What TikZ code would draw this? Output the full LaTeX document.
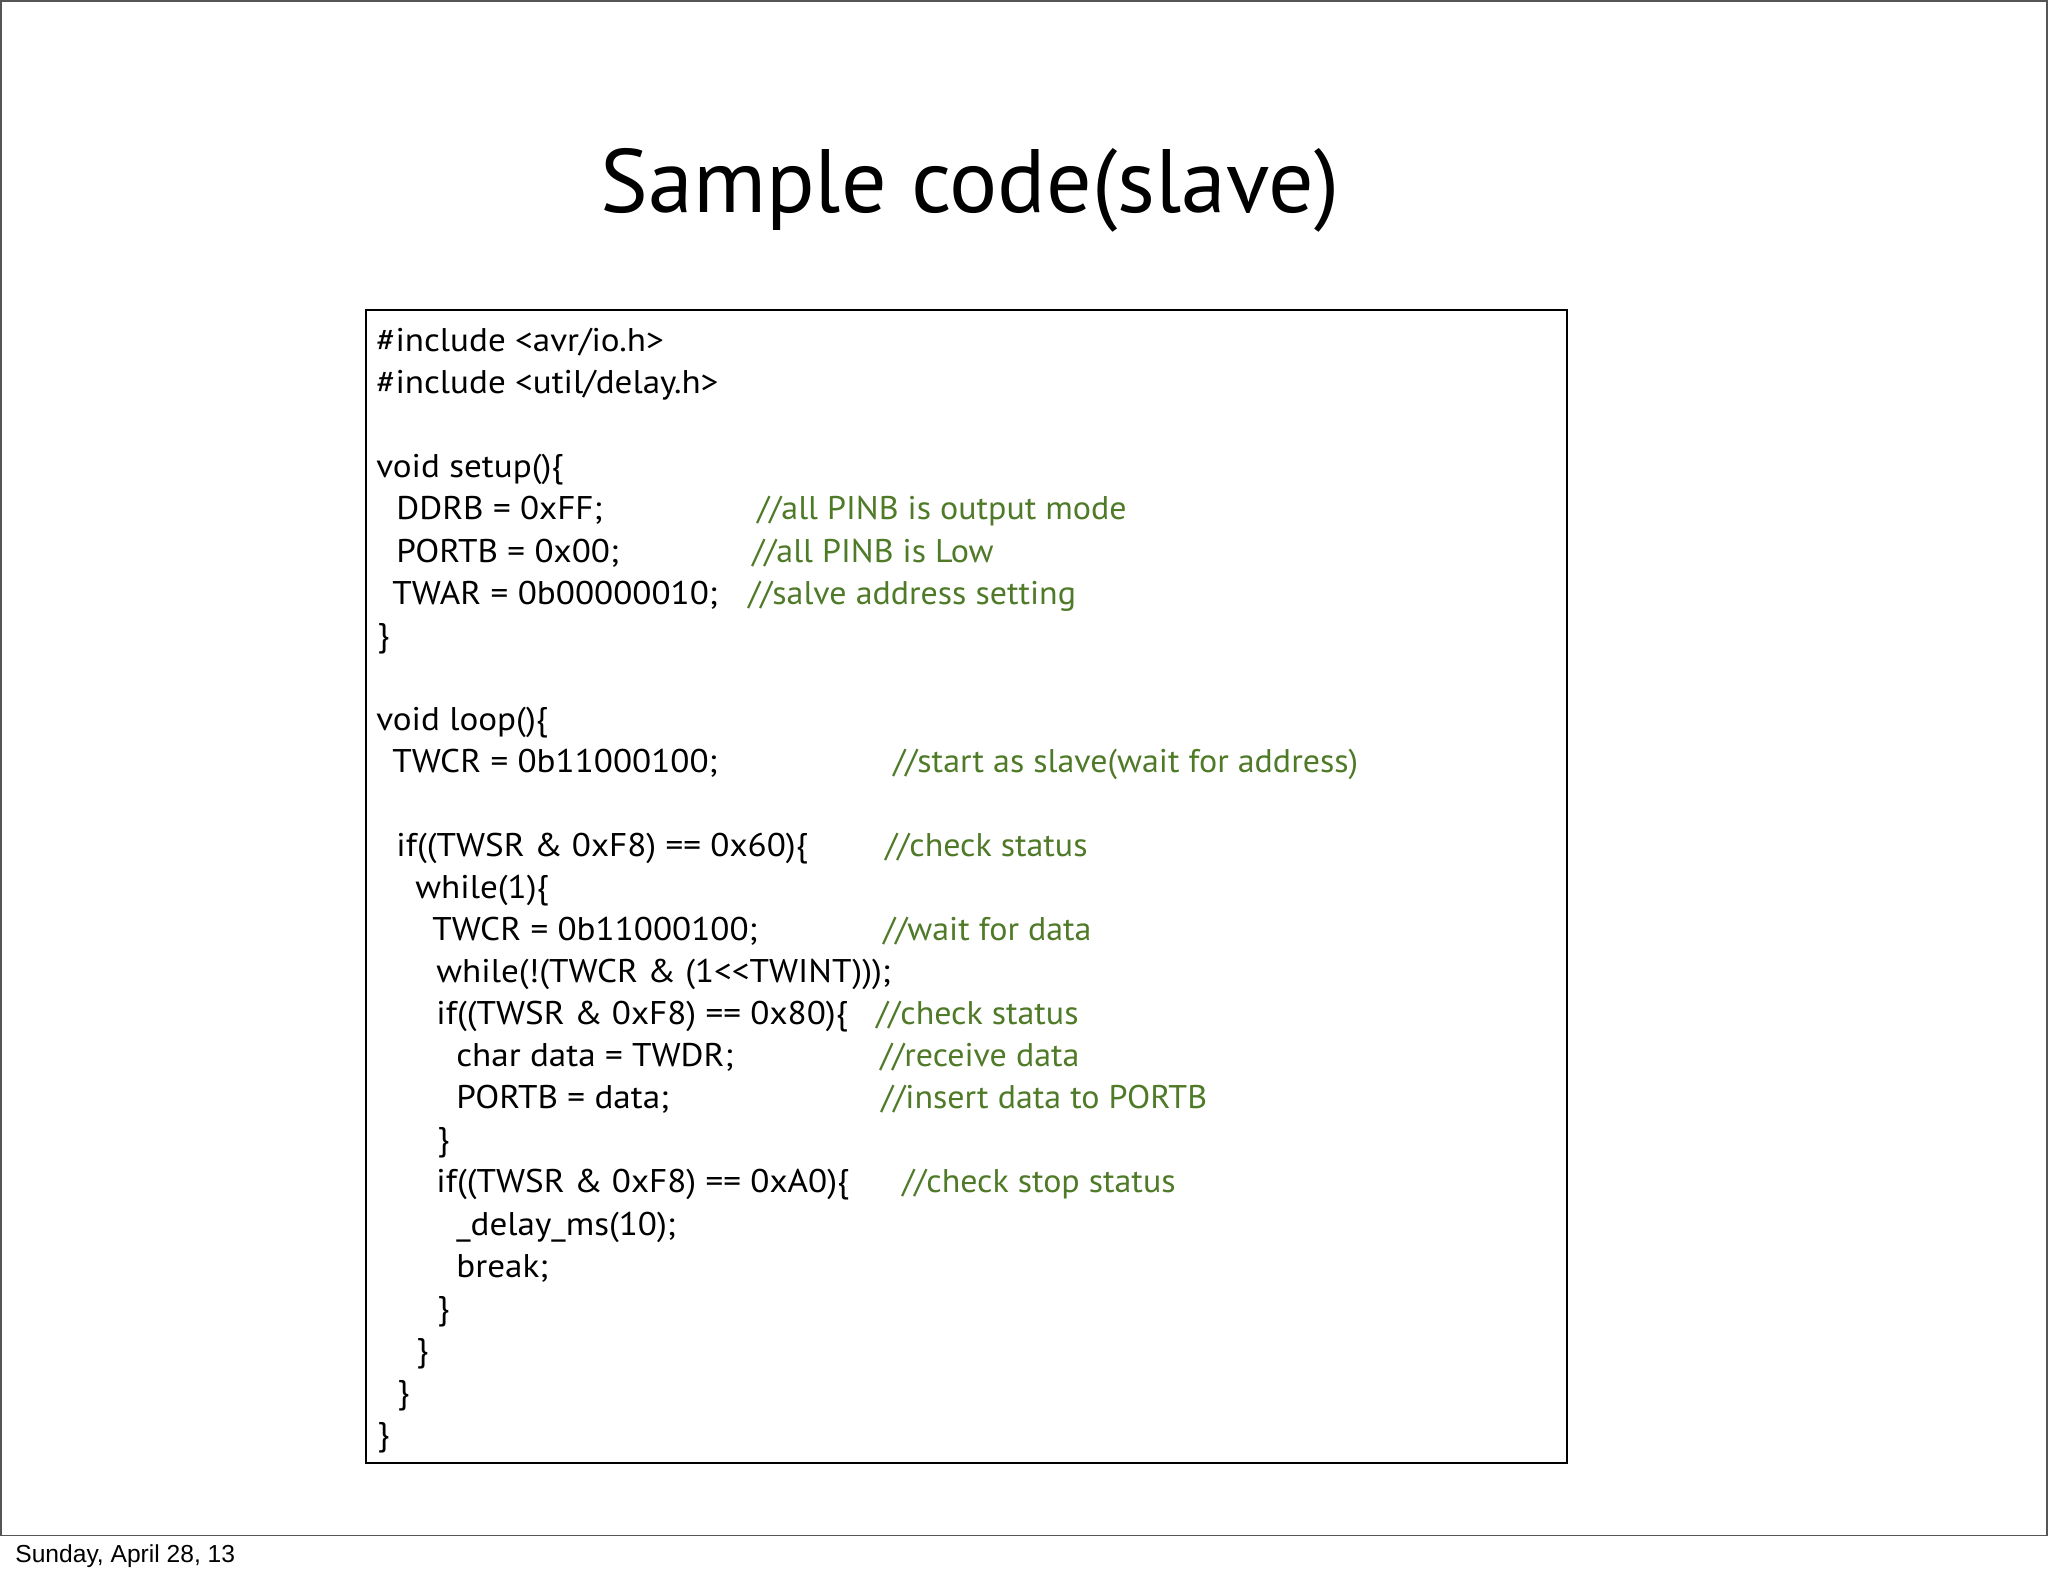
\documentclass[tikz,border=0pt]{standalone}
\usepackage{fontspec}
\setmainfont{PT Sans}
\newfontfamily\codefam[FakeStretch=1.07]{PT Sans}
\newfontfamily\cmtfam[FakeStretch=1.035]{PT Sans}
\newfontfamily\footfont{Liberation Sans}
\definecolor{cmtgreen}{RGB}{79,122,40}
\definecolor{framegray}{RGB}{85,85,85}
\newcommand\codefont{\codefam\fontsize{16.4pt}{19pt}\selectfont}
\newcommand\cmtfont{\cmtfam\fontsize{16.4pt}{19pt}\selectfont}
\begin{document}
\begin{tikzpicture}[x=0.5pt,y=-0.5pt,
  code/.style={anchor=base west,inner sep=0pt,font=\codefont,text=black},
  cmt/.style={anchor=base west,inner sep=0pt,font=\cmtfont,text=cmtgreen},
  titlestyle/.style={anchor=base,inner sep=0pt,font=\fontsize{45pt}{54pt}\selectfont},
  footstyle/.style={anchor=base west,inner sep=0pt,font=\footfont\fontsize{12.3pt}{14pt}\selectfont},
  framestyle/.style={draw=framegray,line width=0.75pt},
  boxstyle/.style={draw=black,line width=1.2pt}]
\useasboundingbox (0,0) rectangle (2048,1576);
\fill[white] (0,0) rectangle (2048,1576);
% slide frame
\coordinate (fa) at (0.8,0.8);
\coordinate (fb) at (2046.8,1535.5);
\draw[framestyle] (fa) rectangle (fb);
% code box
\coordinate (ba) at (366,310);
\coordinate (bb) at (1567,1463);
\draw[boxstyle] (ba) rectangle (bb);
% title
\node[titlestyle] (title) at (970,212.5) {Sample code(slave)};
% code lines: baseline = 351.7 + 42.06 (i-1)
\node[code] (c1)  at (376,351.7)  {\#include <avr/io.h>};
\node[code] (c2)  at (376,393.8)  {\#include <util/delay.h>};
\node[code] (c4)  at (376,477.9)  {void setup()\{};
\node[code] (c5)  at (396,519.9)  {DDRB = 0xFF;};
\node[cmt]  (m5)  at (757,519.9)  {//all PINB is output mode};
\node[code] (c6)  at (396,562.0)  {PORTB = 0x00;};
\node[cmt]  (m6)  at (752,562.0)  {//all PINB is Low};
\node[code] (c7)  at (392,604.1)  {TWAR = 0b00000010;};
\node[cmt]  (m7)  at (748,604.1)  {//salve address setting};
\node[code] (c8)  at (377,646.1)  {\}};
\node[code] (c10) at (376,730.2)  {void loop()\{};
\node[code] (c11) at (392,772.3)  {TWCR = 0b11000100;};
\node[cmt]  (m11) at (893,772.3)  {//start as slave(wait for address)};
\node[code] (c13) at (396,856.4)  {if((TWSR \& 0xF8) == 0x60)\{};
\node[cmt]  (m13) at (885,856.4)  {//check status};
\node[code] (c14) at (415,898.5)  {while(1)\{};
\node[code] (c15) at (432,940.5)  {TWCR = 0b11000100;};
\node[cmt]  (m15) at (883,940.5)  {//wait for data};
\node[code] (c16) at (436,982.6)  {while(!(TWCR \& (1<{}<TWINT)));};
\node[code] (c17) at (436,1024.7) {if((TWSR \& 0xF8) == 0x80)\{};
\node[cmt]  (m17) at (876,1024.7) {//check status};
\node[code] (c18) at (456,1066.7) {char data = TWDR;};
\node[cmt]  (m18) at (880,1066.7) {//receive data};
\node[code] (c19) at (456,1108.8) {PORTB = data;};
\node[cmt]  (m19) at (881,1108.8) {//insert data to PORTB};
\node[code] (c20) at (437,1150.9) {\}};
\node[code] (c21) at (436,1192.9) {if((TWSR \& 0xF8) == 0xA0)\{};
\node[cmt]  (m21) at (902,1192.9) {//check stop status};
\node[code] (c22) at (456,1235.0) {\_delay\_ms(10);};
\node[code] (c23) at (456,1277.1) {break;};
\node[code] (c24) at (437,1319.1) {\}};
\node[code] (c25) at (416,1361.2) {\}};
\node[code] (c26) at (397,1403.3) {\}};
\node[code] (c27) at (377,1445.3) {\}};
% footer
\node[footstyle] (foot) at (15,1562) {Sunday, April 28, 13};
\end{tikzpicture}
\end{document}
